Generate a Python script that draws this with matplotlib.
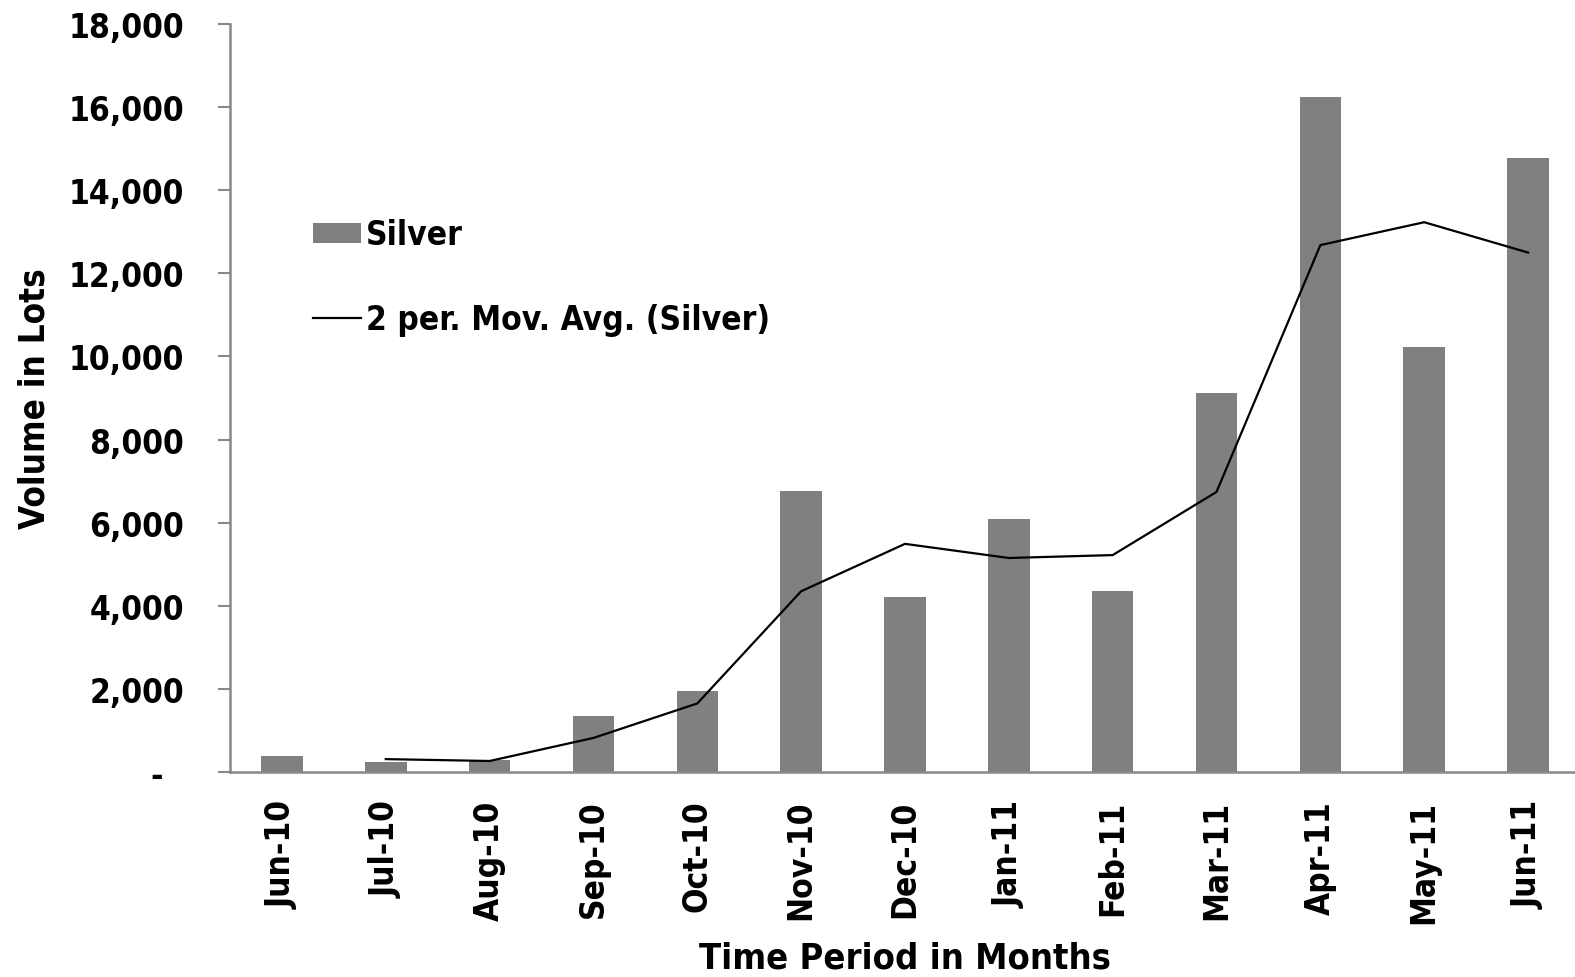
import matplotlib
matplotlib.use("Agg")
import matplotlib.pyplot as plt
from matplotlib.ticker import FuncFormatter
import numpy as np

months = ["Jun-10", "Jul-10", "Aug-10", "Sep-10", "Oct-10", "Nov-10", "Dec-10",
          "Jan-11", "Feb-11", "Mar-11", "Apr-11", "May-11", "Jun-11"]
silver = [385, 240, 290, 1350, 1950, 6760, 4210, 6090, 4355, 9120, 16240, 10230, 14770]
# 2 period moving average as drawn (starts at Jul-10)
mov_avg = [np.nan, 310, 265, 820, 1650, 4350, 5490, 5150, 5220, 6740, 12680, 13230, 12500]

plt.rcParams["font.family"] = ["DejaVu Sans"]
plt.rcParams["font.stretch"] = "condensed"
plt.rcParams["font.weight"] = "bold"

fig = plt.figure(figsize=(15.75, 9.78), dpi=100)
ax = fig.add_axes([230 / 1575, 1 - 773 / 978, 1350 / 1575, 748 / 978])

x = np.arange(len(months))
bars = ax.bar(x, silver, width=0.4, color="#808080", label="Silver", zorder=2)
line, = ax.plot(x, mov_avg, color="black", linewidth=1.6, label="2 per. Mov. Avg. (Silver)", zorder=3)

ax.set_xlim(-0.5, len(months) - 0.5)
ax.set_ylim(0, 18000)
ax.set_yticks(np.arange(0, 18001, 2000))
ax.yaxis.set_major_formatter(FuncFormatter(lambda v, p: "-  " if v == 0 else f"{int(v):,}"))
ax.set_xticks(x)
ax.set_xticklabels(months, rotation=90, fontsize=24, fontweight="bold")
ax.tick_params(axis="y", labelsize=24, length=9, width=1.5, color="#888888", pad=24)
ax.tick_params(axis="x", length=0, pad=20)

for s in ["top", "right"]:
    ax.spines[s].set_visible(False)
for s in ["left", "bottom"]:
    ax.spines[s].set_color("#888888")
    ax.spines[s].set_linewidth(1.8)

ax.set_ylabel("Volume in Lots", fontsize=25, fontweight="bold", labelpad=12)
ax.set_xlabel("Time Period in Months", fontsize=26, fontweight="bold", labelpad=13)

ax.legend([bars, line], ["Silver", "2 per. Mov. Avg. (Silver)"],
          loc="upper left", bbox_to_anchor=(0.0615, 0.74), frameon=False,
          fontsize=24, handlelength=1.45, handleheight=0.55,
          handletextpad=0.15, labelspacing=1.55, borderpad=0, borderaxespad=0)

fig.savefig("out.png", dpi=100)
